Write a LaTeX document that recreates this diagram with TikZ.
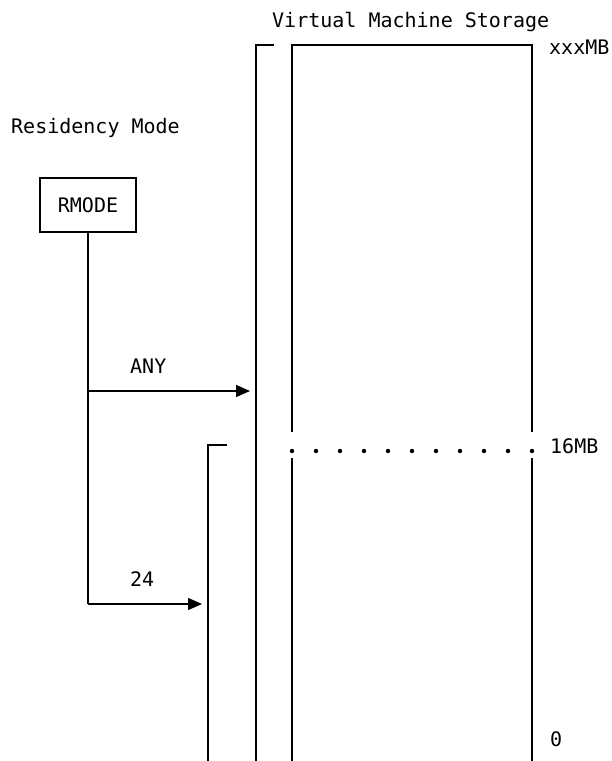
\documentclass[tikz,border=0pt]{standalone}
\usepackage{fontspec}
\setmonofont{DejaVu Sans Mono}
\usetikzlibrary{arrows.meta, positioning}

\begin{document}
\begin{tikzpicture}[
  x=1pt, y=-1pt,
  lbl/.style={font=\ttfamily\fontsize{20}{24}\selectfont, inner sep=0pt, anchor=base west},
  modebox/.style={draw, line width=1.3pt, minimum width=96pt, minimum height=54pt,
                  inner sep=0pt, font=\ttfamily\fontsize{20}{24}\selectfont},
  ln/.style={line width=1.3pt},
  arr/.style={ln, -{Triangle[length=14pt, width=12pt]}, shorten >=6pt}
]
\useasboundingbox (0,0) rectangle (611,761);

% labels
\node[lbl] (title) at (272,27) {Virtual Machine Storage};
\node[lbl] (resmode) at (11,133) {Residency Mode};
\node[lbl] (top) at (549,54) {xxxMB};
\node[lbl] (mid) at (550,453) {16MB};
\node[lbl] (zero) at (550,746) {0};

% residency mode
\node[modebox] (rmode) at (88,205) {RMODE};
\coordinate (anyfork) at (88,391);
\coordinate (fork24) at (88,604);

% storage brackets
\coordinate (vmtop) at (256,45);
\coordinate (lowtop) at (208,445);
\draw[ln] (274,45) -- (vmtop) -- (256,761);
\draw[ln] (227,445) -- (lowtop) -- (208,761);

% storage box
\draw[ln] (292,432) -- (292,45) -- (532,45) -- (532,432);
\draw[ln] (292,458) -- (292,761);
\draw[ln] (532,458) -- (532,761);
\foreach \i in {0,...,10}
  \fill (292+\i*24,451) circle (2.2pt);

% connectors
\draw[ln] (rmode.south) -- (fork24);
\draw[arr] (anyfork) -- (anyfork -| vmtop);
\draw[arr] (fork24) -- (fork24 -| lowtop);
\node[lbl] (anylbl) at (130,373) {ANY};
\node[lbl] (lbl24) at (130,586) {24};
\end{tikzpicture}
\end{document}
